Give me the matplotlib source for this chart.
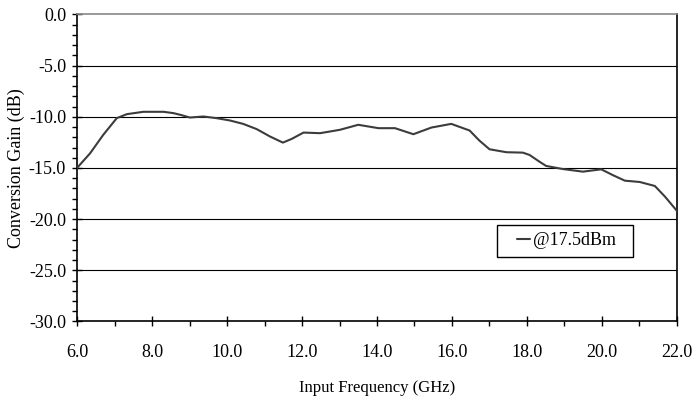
import matplotlib
matplotlib.use("Agg")
import matplotlib.pyplot as plt
from matplotlib.ticker import MultipleLocator
from matplotlib.patches import Rectangle

plt.rcParams['font.family'] = ['Liberation Serif', 'DejaVu Serif']

freq_ghz = [6.0, 6.35, 6.7, 7.06, 7.33, 7.77, 8.31, 8.57, 8.75, 9.01, 9.37, 9.72,
            10.08, 10.43, 10.79, 11.15, 11.49, 11.73, 12.04, 12.48, 13.01, 13.5,
            14.04, 14.48, 14.97, 15.45, 15.98, 16.47, 16.73, 17.0, 17.45, 17.89,
            18.07, 18.33, 18.51, 18.95, 19.49, 19.98, 20.29, 20.61, 21.01, 21.41,
            21.68, 22.0]
gain_db = [-15.0, -13.56, -11.76, -10.13, -9.74, -9.51, -9.51, -9.64, -9.8, -10.07,
           -9.97, -10.13, -10.36, -10.69, -11.2, -11.93, -12.52, -12.15, -11.54,
           -11.6, -11.27, -10.78, -11.11, -11.11, -11.7, -11.05, -10.69, -11.34,
           -12.32, -13.17, -13.46, -13.5, -13.73, -14.38, -14.8, -15.1, -15.36,
           -15.13, -15.7, -16.24, -16.37, -16.76, -17.8, -19.2]
series_label = "@17.5dBm"
x_ticks = [6, 8, 10, 12, 14, 16, 18, 20, 22]
y_ticks = [0, -5, -10, -15, -20, -25, -30]

fig = plt.figure(figsize=(6.92, 4.0), dpi=100)
ax = fig.add_axes([0.1113, 0.1963, 0.8670, 0.7675])

for yv in y_ticks[1:-1]:
    ax.axhline(yv, color='black', lw=0.8, zorder=1)

ax.plot(freq_ghz, gain_db, color='#3c3c3c', lw=1.5, label=series_label, zorder=3,
        solid_joinstyle='round', solid_capstyle='round')

ax.set_xlim(6, 22)
ax.set_ylim(-30, 0)
ax.set_xticks(x_ticks)
ax.set_xticklabels([f"{v:.1f}" for v in x_ticks])
ax.set_yticks(y_ticks)
ax.set_yticklabels([f"{v:.1f}" for v in y_ticks])
ax.xaxis.set_minor_locator(MultipleLocator(1))
ax.yaxis.set_minor_locator(MultipleLocator(1))
ax.tick_params(axis='both', which='major', direction='inout', length=7.2, width=1.0,
               labelsize=13, colors='black')
ax.tick_params(axis='both', which='minor', direction='out', length=3.6, width=1.0)
ax.tick_params(axis='x', which='major', pad=12.5)
ax.tick_params(axis='y', which='major', pad=4.3)

for s in ['left', 'bottom', 'right']:
    ax.spines[s].set_linewidth(1.2)
    ax.spines[s].set_color('black')
ax.spines['top'].set_color('#888888')
ax.spines['top'].set_linewidth(1.2)

ax.set_xlabel("Input Frequency (GHz)", fontsize=12, labelpad=14)
ax.set_ylabel("Conversion Gain (dB)", fontsize=13, labelpad=3)

# legend frame and legend
ax.add_patch(Rectangle((0.70, 0.2101), 0.2267, 0.1042, transform=ax.transAxes,
                       facecolor='white', edgecolor='black', lw=1.0, zorder=4))
leg = ax.legend(loc='center left', bbox_to_anchor=(0.7333, 0.2622), fontsize=13,
                frameon=False, handlelength=0.72, handletextpad=0.17,
                borderpad=0, borderaxespad=0)
leg.set_zorder(5)

fig.savefig("out.png", dpi=100)
